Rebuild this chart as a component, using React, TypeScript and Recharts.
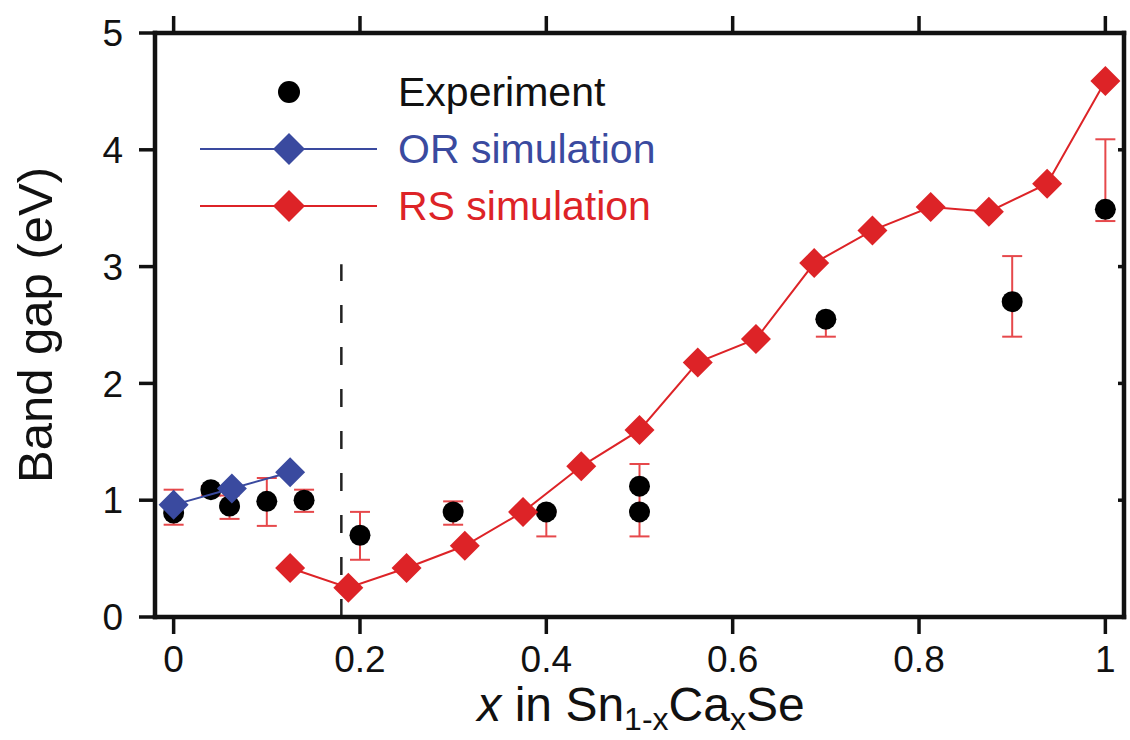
import React from 'react';
import {
  ComposedChart,
  Scatter,
  XAxis,
  YAxis,
  ErrorBar,
  ReferenceLine,
  Legend,
  Label,
} from 'recharts';

const FONT = '"Liberation Sans", Arial, Helvetica, sans-serif';
const RED = '#dd2327';
const RED_BAR = '#e6484b';
const BLUE = '#3a4a9f';
const INK = '#111';

// axis ticks
const xTicks = [0, 0.2, 0.4, 0.6, 0.8, 1];
const yTicks = [0, 1, 2, 3, 4, 5];
const yInnerTicks = [1, 2, 3, 4];

// Experiment (black dots) with error bar bounds
const expX = [0, 0.04, 0.06, 0.1, 0.14, 0.2, 0.3, 0.4, 0.5, 0.5, 0.7, 0.9, 1.0];
const expY = [0.89, 1.09, 0.95, 0.99, 1.0, 0.7, 0.9, 0.9, 1.12, 0.9, 2.55, 2.7, 3.49];
const expLow = [0.79, 1.04, 0.84, 0.78, 0.9, 0.49, 0.79, 0.69, 0.69, 0.9, 2.4, 2.4, 3.39];
const expHigh = [1.09, 1.12, 1.04, 1.19, 1.09, 0.9, 0.99, 0.9, 1.31, 0.9, 2.55, 3.09, 4.09];

// OR simulation (blue diamonds)
const orX = [0, 0.0625, 0.125];
const orY = [0.96, 1.1, 1.24];

// RS simulation (red diamonds)
const rsX = [0.125, 0.1875, 0.25, 0.3125, 0.375, 0.4375, 0.5, 0.5625, 0.625, 0.6875, 0.75, 0.8125, 0.875, 0.9375, 1.0];
const rsY = [0.42, 0.25, 0.42, 0.61, 0.9, 1.29, 1.6, 2.18, 2.38, 3.03, 3.31, 3.51, 3.47, 3.71, 4.59];

// phase boundary
const boundaryX = 0.18;
const boundaryTop = 3.02;

const legendLabels = ['Experiment', 'OR simulation', 'RS simulation'];

const expData = expX.map((x, i) => ({ x, y: expY[i] }));
const errData = expX
  .map((x, i) => ({ x, y: expY[i], err: [expY[i] - expLow[i], expHigh[i] - expY[i]] }))
  .filter((d) => d.err[0] + d.err[1] > 0);
const orData = orX.map((x, i) => ({ x, y: orY[i] }));
const rsData = rsX.map((x, i) => ({ x, y: rsY[i] }));

const Diamond = ({ cx, cy, fill, r = 15 }: any) => (
  <polygon
    points={`${cx},${cy - r} ${cx + r},${cy} ${cx},${cy + r} ${cx - r},${cy}`}
    fill={fill}
  />
);

const Dot = ({ cx, cy }: any) => <circle cx={cx} cy={cy} r={10.5} fill="#000" />;

const Empty = () => <g />;

const LegendBox = () => (
  <svg width={480} height={172} style={{ display: 'block' }}>
    <circle cx={99} cy={32} r={11} fill="#000" />
    <text x={208} y={46} fontSize={41} fontFamily={FONT} fill={INK}>
      {legendLabels[0]}
    </text>
    <line x1={10} x2={187} y1={89} y2={89} stroke={BLUE} strokeWidth={2} />
    <Diamond cx={99} cy={89} r={16} fill={BLUE} />
    <text x={208} y={103} fontSize={41} fontFamily={FONT} fill={BLUE}>
      {legendLabels[1]}
    </text>
    <line x1={10} x2={187} y1={146} y2={146} stroke={RED} strokeWidth={2} />
    <Diamond cx={99} cy={146} r={16} fill={RED} />
    <text x={208} y={160} fontSize={41} fontFamily={FONT} fill={RED}>
      {legendLabels[2]}
    </text>
  </svg>
);

const XTitle = () => (
  <text x={641} y={721} textAnchor="middle" fontSize={48} fontFamily={FONT} fill={INK}>
    <tspan fontStyle="italic">x</tspan>
    <tspan> in Sn</tspan>
    <tspan fontSize={32} dy={9}>1-x</tspan>
    <tspan dy={-9}>Ca</tspan>
    <tspan fontSize={32} dy={9}>x</tspan>
    <tspan dy={-9}>Se</tspan>
  </text>
);

const YTitle = () => (
  <text
    x={52}
    y={325}
    transform="rotate(-90, 52, 325)"
    textAnchor="middle"
    fontSize={49}
    fontFamily={FONT}
    fill={INK}
  >
    Band gap (eV)
  </text>
);

const axisLine = { stroke: INK, strokeWidth: 4.5, strokeLinecap: 'square' as const };
const tickLine = { stroke: INK, strokeWidth: 3.5 };
const tickStyle = { fill: INK, fontSize: 37, fontFamily: FONT };
const noLabel = () => <g />;

export default function App() {
  return (
    <div style={{ position: 'absolute', left: 0, top: 0, width: 1130, height: 740, background: '#fff' }}>
      <ComposedChart width={1130} height={740} margin={{ top: 0, right: 0, bottom: 0, left: 0 }}>
        <XAxis
          xAxisId="b"
          type="number"
          dataKey="x"
          domain={[-0.02, 1.02]}
          ticks={xTicks}
          tickFormatter={(v) => String(v)}
          height={123}
          tickSize={17}
          tickMargin={12}
          axisLine={axisLine}
          tickLine={tickLine}
          tick={tickStyle}
          allowDataOverflow
        >
          <Label content={<XTitle />} />
        </XAxis>
        <XAxis
          xAxisId="t"
          orientation="top"
          type="number"
          dataKey="x"
          domain={[-0.02, 1.02]}
          ticks={xTicks}
          interval={0}
          height={33}
          tickSize={17}
          tick={noLabel}
          axisLine={axisLine}
          tickLine={tickLine}
          allowDataOverflow
        />
        <YAxis
          yAxisId="l"
          type="number"
          dataKey="y"
          domain={[0, 5]}
          ticks={yTicks}
          width={155}
          tickSize={16}
          tickMargin={16}
          axisLine={axisLine}
          tickLine={tickLine}
          tick={tickStyle}
          allowDataOverflow
        >
          <Label content={<YTitle />} />
        </YAxis>
        <YAxis
          yAxisId="r"
          orientation="right"
          type="number"
          domain={[0, 5]}
          ticks={yInnerTicks}
          width={6}
          tickSize={-6}
          tick={noLabel}
          axisLine={axisLine}
          tickLine={tickLine}
          allowDataOverflow
        />
        <ReferenceLine
          xAxisId="b"
          yAxisId="l"
          segment={[
            { x: boundaryX, y: 0 },
            { x: boundaryX, y: boundaryTop },
          ]}
          stroke="#222"
          strokeWidth={2.5}
          strokeDasharray="18 24"
        />
        <Scatter
          name="err"
          data={errData}
          xAxisId="b"
          yAxisId="l"
          shape={<Empty />}
          legendType="none"
          isAnimationActive={false}
        >
          <ErrorBar dataKey="err" direction="y" width={10} stroke={RED_BAR} strokeWidth={2} isAnimationActive={false} />
        </Scatter>
        <Scatter
          name="Experiment"
          data={expData}
          xAxisId="b"
          yAxisId="l"
          shape={<Dot />}
          isAnimationActive={false}
        />
        <Scatter
          name="OR simulation"
          data={orData}
          xAxisId="b"
          yAxisId="l"
          fill={BLUE}
          line={{ stroke: BLUE, strokeWidth: 2 }}
          lineType="joint"
          shape={(p: any) => <Diamond cx={p.cx} cy={p.cy} r={15} fill={BLUE} />}
          isAnimationActive={false}
        />
        <Scatter
          name="RS simulation"
          data={rsData}
          xAxisId="b"
          yAxisId="l"
          fill={RED}
          line={{ stroke: RED, strokeWidth: 2 }}
          lineType="joint"
          shape={(p: any) => <Diamond cx={p.cx} cy={p.cy} r={15} fill={RED} />}
          isAnimationActive={false}
        />
        <Legend
          layout="horizontal"
          verticalAlign="middle"
          align="center"
          content={<LegendBox />}
          wrapperStyle={{ left: 190, top: 60, width: 480, height: 172 }}
        />
      </ComposedChart>
    </div>
  );
}
